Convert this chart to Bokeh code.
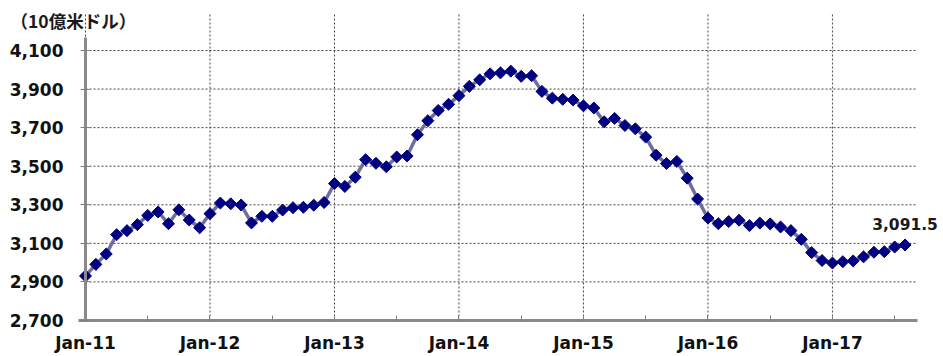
import math
from bokeh.plotting import figure
from bokeh.models import FixedTicker, Range1d, Label, ColumnDataSource
from bokeh.embed import file_html
from bokeh.resources import INLINE

# Monthly values, Jan 2011 .. Aug 2017 (billion USD)
reserves = [
    2931, 2991, 3045, 3145, 3166, 3197, 3245, 3263, 3202, 3274, 3221, 3181,   # 2011
    3254, 3309, 3305, 3299, 3206, 3240, 3240, 3273, 3285, 3287, 3298, 3312,   # 2012
    3410, 3395, 3443, 3534, 3515, 3497, 3548, 3553, 3663, 3736, 3789, 3821,   # 2013
    3866, 3914, 3948, 3979, 3984, 3993, 3966, 3969, 3888, 3853, 3847, 3843,   # 2014
    3813, 3802, 3730, 3748, 3711, 3694, 3651, 3557, 3514, 3525, 3438, 3330,   # 2015
    3231, 3202, 3213, 3220, 3192, 3205, 3201, 3185, 3166, 3121, 3052, 3011,   # 2016
    2998, 3005, 3009, 3030, 3054, 3057, 3081, 3091.5,                         # 2017
]
month_index = list(range(len(reserves)))
year_labels = ["Jan-11", "Jan-12", "Jan-13", "Jan-14", "Jan-15", "Jan-16", "Jan-17"]
y_ticks = [2700, 2900, 3100, 3300, 3500, 3700, 3900, 4100]
unit_label = "（10億米ドル）"
last_label = "3,091.5"

# layout of the plotting area (pixels)
W, H = 943, 356
left_px, right_px, bottom_px, top_px = 85, 917, 320, 13
x_end_month = 80.2
px_per_month = (right_px - left_px) / x_end_month
val_per_px = (y_ticks[-1] - y_ticks[0]) / (bottom_px - 50)

x0 = -left_px / px_per_month
x1 = x0 + W / px_per_month
y0 = y_ticks[0] - (H - bottom_px) * val_per_px
y1 = y_ticks[0] + bottom_px * val_per_px
grid_top = y_ticks[0] + (bottom_px - top_px) * val_per_px
axis_top = y_ticks[0] + (bottom_px - 37) * val_per_px

src = ColumnDataSource(dict(x=month_index, y=reserves))

p = figure(width=W, height=H, output_backend="svg", toolbar_location=None,
           x_range=Range1d(x0, x1), y_range=Range1d(y0, y1),
           min_border_left=0, min_border_right=0, min_border_top=0, min_border_bottom=0)
p.outline_line_color = None
p.background_fill_color = "white"
p.border_fill_color = "white"
p.grid.visible = False

jan_ticks = [12 * i for i in range(len(year_labels))]
half_ticks = [6 * i for i in range(2 * len(year_labels))]

# grid lines (dashed), limited to the plotting area
p.segment(x0=[0] * (len(y_ticks) - 1), y0=y_ticks[1:], x1=[x_end_month] * (len(y_ticks) - 1),
          y1=y_ticks[1:], line_color="#444444", line_dash="2 2", line_width=1)
p.segment(x0=jan_ticks, y0=[y_ticks[0]] * len(jan_ticks), x1=jan_ticks,
          y1=[grid_top] * len(jan_ticks), line_color="#444444", line_dash="2 2", line_width=1)

xa = p.xaxis[0]
xa.fixed_location = y_ticks[0]
xa.bounds = (-0.7, x_end_month)
xa.ticker = FixedTicker(ticks=half_ticks)
overrides = {}
for t in half_ticks:
    overrides[t] = year_labels[t // 12] if t % 12 == 0 else ""
xa.major_label_overrides = overrides
xa.minor_tick_line_color = None
xa.major_tick_in = 5
xa.major_tick_out = 0
xa.major_tick_line_color = "#808080"
xa.axis_line_color = "#8a8a8a"
xa.axis_line_width = 3
xa.major_label_text_font = "DejaVu Sans"
xa.major_label_text_font_style = "bold"
xa.major_label_text_font_size = "17px"
xa.major_label_text_color = "#111111"
xa.major_label_standoff = 12

ya = p.yaxis[0]
ya.fixed_location = 0
ya.bounds = (y_ticks[0], axis_top)
ya.ticker = FixedTicker(ticks=y_ticks)
ya.major_label_overrides = {t: f"{t:,}" for t in y_ticks}
ya.minor_tick_line_color = None
ya.major_tick_in = 4
ya.major_tick_out = 5
ya.major_tick_line_color = "#808080"
ya.axis_line_color = "#8a8a8a"
ya.axis_line_width = 3
ya.major_label_text_font = "DejaVu Sans"
ya.major_label_text_font_style = "bold"
ya.major_label_text_font_size = "17px"
ya.major_label_text_color = "#111111"
ya.major_label_standoff = 17

p.line("x", "y", source=src, line_color="#6E6E9E", line_width=3.5)
p.scatter("x", "y", source=src, marker="square", angle=math.pi / 4, size=8.5,
          fill_color="#000080", line_color="#000080")

p.add_layout(Label(x=month_index[-1], y=reserves[-1], text=last_label,
                   text_align="center", text_baseline="middle", y_offset=21,
                   text_font="DejaVu Sans", text_font_style="bold",
                   text_font_size="15.5px", text_color="#1a1a1a"))

p.add_layout(Label(x=x0 + 10 / px_per_month, y=y_ticks[0] + (bottom_px - 20) * val_per_px,
                   text=unit_label, text_align="left", text_baseline="middle",
                   text_font="Noto Sans CJK JP", text_font_style="bold",
                   text_font_size="17.5px", text_color="#1a1a1a"))

open("out.html", "w").write(file_html(p, INLINE))
